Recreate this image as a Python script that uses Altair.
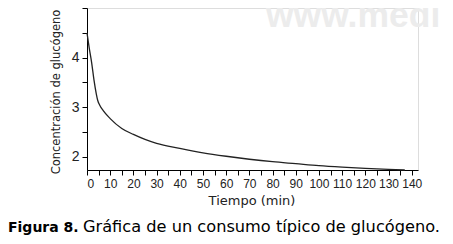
import altair as alt
import pandas as pd

# data
tiempo = [0, 1, 2, 3, 4, 4.6, 5.5, 7, 10, 15, 20, 25, 30, 40, 50, 60, 70, 80, 90, 100, 110, 120, 130, 137]
glucogeno = [4.5, 4.18, 3.9, 3.55, 3.27, 3.14, 3.04, 2.93, 2.77, 2.57, 2.45, 2.35, 2.27, 2.17, 2.08, 2.01, 1.95, 1.9, 1.86, 1.82, 1.79, 1.765, 1.745, 1.733]

x_ticks = list(range(0, 141, 5))
y_ticks = [2, 2.5, 3, 3.5, 4, 4.5, 5]

x_title = "Tiempo (min)"
y_title = "Concentración de glucógeno"
caption_bold = "Figura 8."
caption_rest = "Gráfica de un consumo típico de glucógeno."
watermark = "www.medi"

W, H = 331, 162
FONT = "DejaVu Sans"

df = pd.DataFrame({"t": tiempo, "g": glucogeno})

base = alt.Chart(df)

line = base.mark_line(color="#222", strokeWidth=1.3, interpolate="monotone").encode(
    x=alt.X("t:Q",
            scale=alt.Scale(domain=[0, 142.7], nice=False, zero=False),
            axis=alt.Axis(values=x_ticks, title=None, grid=False, format=".0f",
                          labelExpr="datum.value % 10 == 0 ? datum.label : ''",
                          tickSize=5, labelPadding=3, labelFontSize=12,
                          labelFont="Liberation Sans", labelColor="#222",
                          labelOverlap=False, domainColor="#000", tickColor="#000")),
    y=alt.Y("g:Q",
            scale=alt.Scale(domain=[1.733, 5.0], nice=False, zero=False),
            axis=alt.Axis(values=y_ticks, title=None, grid=False, format=".0f",
                          labelExpr="datum.value == 2 || datum.value == 3 || datum.value == 4 ? datum.label : ''",
                          tickSize=5, labelPadding=3, labelFontSize=14,
                          labelFont="Liberation Sans", labelColor="#222",
                          domainColor="#000", tickColor="#000")),
)

def txt(s, x, y, **kw):
    return alt.Chart(pd.DataFrame({"s": [s]})).mark_text(**kw).encode(
        text="s:N", x=alt.value(x), y=alt.value(y))

wm = txt(watermark, 179, 19, font="Liberation Sans", fontSize=35.5, fontWeight="bold",
         color="#ececec", align="left", baseline="alphabetic")

xt = txt(x_title, 165, 193, font=FONT, fontSize=13, color="#222", align="center", baseline="middle")
yt = txt(y_title, -30, 84, font=FONT, fontSize=11.5, color="#222", align="center", baseline="middle", angle=270)
cb = txt(caption_bold, -79, 224, font=FONT, fontSize=14, fontWeight="bold", color="#000",
         align="left", baseline="alphabetic")
cr = txt(caption_rest, -4, 224, font=FONT, fontSize=16.2, color="#000", align="left", baseline="alphabetic")

chart = alt.layer(wm, line, xt, yt, cb, cr).properties(
    width=W, height=H,
    autosize=alt.AutoSizeParams(type="none"),
    padding={"left": 79, "top": 0, "right": 27, "bottom": 66},
).configure_view(stroke=None).configure(background="white")

chart.save("out.html", embed_options={"renderer": "svg", "actions": False})
